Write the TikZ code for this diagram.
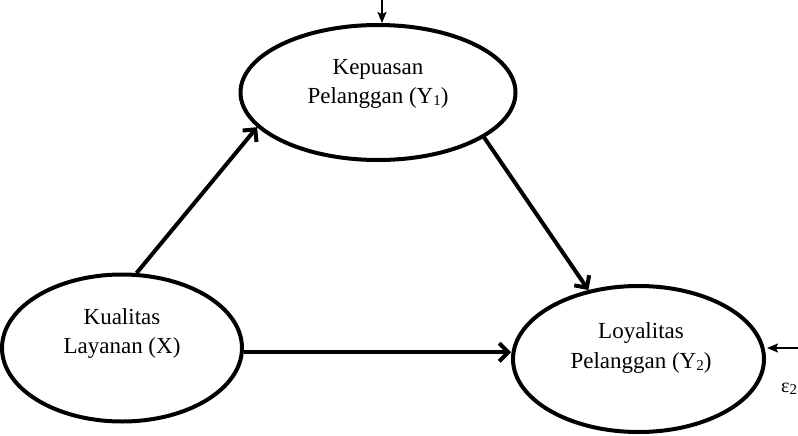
\documentclass[tikz,border=0pt]{standalone}
\usepackage{fontspec}
\setmainfont{Liberation Serif}
\usetikzlibrary{shapes.geometric,arrows.meta}
\newcommand\mysub[1]{\raisebox{-0.2ex}{\fontsize{15}{15}\selectfont #1}}
\begin{document}
\begin{tikzpicture}[x=1pt,y=-1pt,
  latent/.style={ellipse, draw, line width=4pt, inner sep=0pt},
  lbl/.style={align=center, font=\fontsize{23}{29}\selectfont},
  patharrow/.style={line width=4pt, -{Straight Barb[length=9pt,width=18pt]}},
  errarrow/.style={line width=1.5pt, -{Stealth[length=11pt,width=9pt,inset=2pt]}}]
\useasboundingbox (0,0) rectangle (798,436);
\node[latent, minimum width=275pt, minimum height=135pt] (Y1) at (378,92.5) {};
\node[latent, minimum width=240pt, minimum height=147pt] (X) at (122,348) {};
\node[latent, minimum width=251pt, minimum height=146pt] (Y2) at (638.5,359) {};
\node[lbl] (tY1) at (378,84) {Kepuasan\\Pelanggan (Y\mysub{1})};
\node[lbl] (tX) at (122,334) {Kualitas\\Layanan (X)};
\node[lbl] (tY2) at (641,348) {Loyalitas\\Pelanggan (Y\mysub{2})};
\draw[patharrow] (X.79) -- (Y1.196);
\draw[patharrow] (Y1.-23) -- (Y2.126);
\draw[patharrow] (X.-2) -- (X.-2 -| Y2.west);
\coordinate (e1) at (382,0);
\draw[errarrow] (e1) -- (e1 |- Y1.north);
\coordinate (e2) at (798,348);
\draw[errarrow] (e2) -- ([xshift=1pt]Y2.east |- e2);
\node[anchor=west, inner sep=0pt, font=\fontsize{20}{20}\selectfont] (eps) at (781,389) {ε\mysub{2}};
\end{tikzpicture}
\end{document}
